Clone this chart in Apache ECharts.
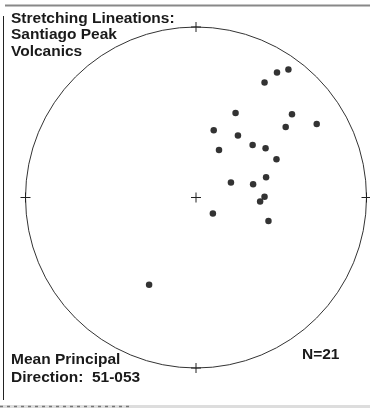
<!DOCTYPE html>
<html><head><meta charset="utf-8">
<script src="https://cdn.jsdelivr.net/npm/echarts@6/dist/echarts.min.js"></script>
<style>html,body{margin:0;padding:0;background:#fff}#c{width:370px;height:408px}</style>
</head><body><div id="c"></div>
<script>
// Lineation positions on the equal-area net (unit-circle coords: east, north)
const eastCoords  = [0.402,0.475,0.542,0.232,0.563,0.104,0.246,0.526,0.708,0.135,0.332,0.408,0.472,0.411,0.205,0.335,0.402,0.376,0.099,0.425,-0.275];
const northCoords = [0.675,0.733,0.751,0.495,0.489,0.394,0.363,0.413,0.431,0.279,0.308,0.289,0.225,0.119,0.088,0.078,0.004,-0.023,-0.094,-0.138,-0.511];
const titleLines = ['Stretching Lineations:','Santiago Peak','Volcanics'];
const meanLines = ['Mean Principal','Direction:  51-053'];
const countLabel = 'N=21';

const chart = echarts.init(document.getElementById('c'), null, {renderer:'canvas'});
const pts = eastCoords.map((e,i)=>[e,northCoords[i]]);
chart.setOption({
  animation:false,
  grid:{left:25.5,top:27,width:341,height:341},
  xAxis:{type:'value',min:-1,max:1,show:false},
  yAxis:{type:'value',min:-1,max:1,show:false},
  series:[{type:'scatter',data:pts,symbol:'circle',symbolSize:6.5,itemStyle:{color:'#000'},z:5}]
});
const c = chart.convertToPixel({gridIndex:0},[0,0]);
const e1 = chart.convertToPixel({gridIndex:0},[1,0]);
const R = e1[0]-c[0];
const g = [];
const font = 'bold 15.5px "Liberation Sans", Arial, sans-serif';
g.push({type:'line',shape:{x1:5,y1:5.5,x2:370,y2:5.5},style:{stroke:'#888',lineWidth:2}});
g.push({type:'line',shape:{x1:3.5,y1:16,x2:3.5,y2:400},style:{stroke:'#222',lineWidth:1}});
g.push({type:'line',shape:{x1:0,y1:406.5,x2:370,y2:406.5},style:{stroke:'#ddd',lineWidth:3}});
g.push({type:'line',shape:{x1:0,y1:406.5,x2:130,y2:406.5},style:{stroke:'#777',lineWidth:1.5,lineDash:[3,4]}});
g.push({type:'circle',shape:{cx:c[0],cy:c[1],r:R},style:{fill:null,stroke:'#333',lineWidth:1}});
const cross=(x,y,s)=>{
  g.push({type:'line',shape:{x1:x-s,y1:y,x2:x+s,y2:y},style:{stroke:'#222',lineWidth:1}});
  g.push({type:'line',shape:{x1:x,y1:y-s,x2:x,y2:y+s},style:{stroke:'#222',lineWidth:1}});
};
cross(c[0],c[1],5);
cross(c[0],c[1]-R,5);cross(c[0],c[1]+R,5);cross(c[0]-R,c[1],5);cross(c[0]+R,c[1],5);
const txt=(s,x,base)=>g.push({type:'text',x:x,y:base-12.5,z:10,style:{text:s,font:font,fill:'#1a1a1a',textVerticalAlign:'top'}});
titleLines.forEach((s,i)=>txt(s,11,23.5+i*16.2));
meanLines.forEach((s,i)=>txt(s,11,364.5+i*17.3));
txt(countLabel,302,359.5);
chart.setOption({graphic:g});
</script></body></html>
